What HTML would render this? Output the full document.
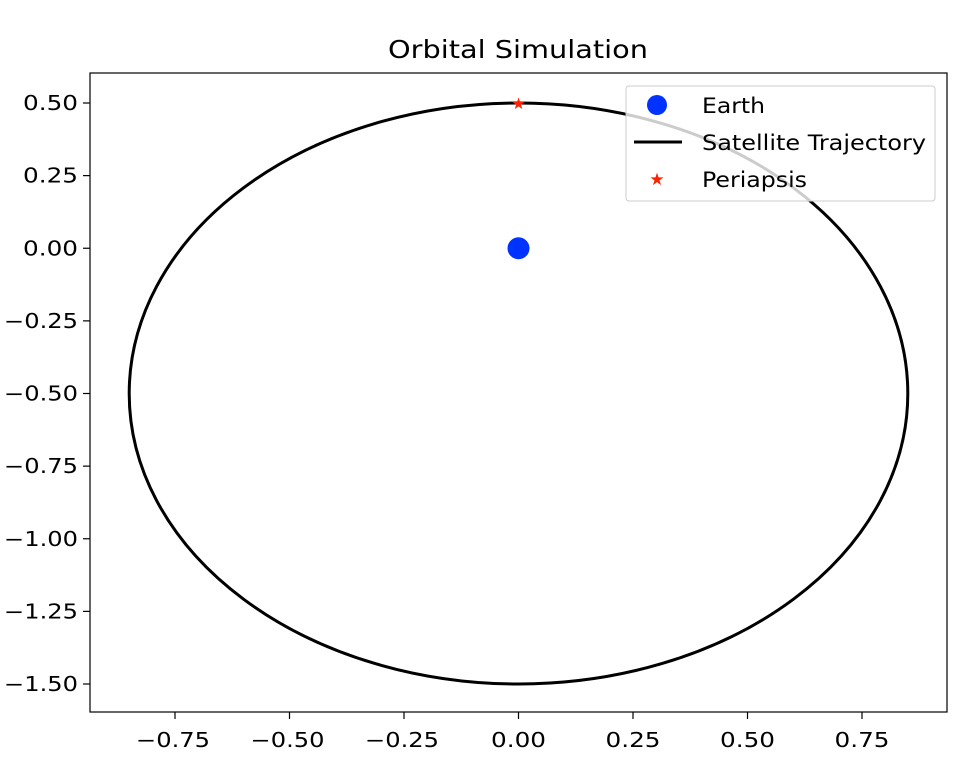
<!DOCTYPE html>
<html><head><meta charset="utf-8"><style>
body{margin:0;background:#fff}
svg text{font-family:"DejaVu Sans","Liberation Sans",sans-serif;fill:#000}
</style></head><body>
<svg id="c" width="974" height="770" xmlns="http://www.w3.org/2000/svg">
<rect width="974" height="770" fill="#fff"/>
<text x="388" y="58" font-size="25" textLength="260" lengthAdjust="spacingAndGlyphs">Orbital Simulation</text>
<g id="plot"></g>
<rect x="90" y="73" width="857" height="639" fill="none" stroke="#000" stroke-width="1.2"/>
<g>
<rect x="626" y="86" width="309" height="115" rx="3" fill="#fff" fill-opacity="0.8" stroke="#ccc"/>
<circle cx="657" cy="105" r="10" fill="#0033ff"/>
<text x="702" y="113" font-size="21" textLength="63" lengthAdjust="spacingAndGlyphs">Earth</text>
<line x1="634" y1="142" x2="682" y2="142" stroke="#000" stroke-width="3"/>
<text x="702" y="150" font-size="21" textLength="224" lengthAdjust="spacingAndGlyphs">Satellite Trajectory</text>
<text x="657" y="185" font-size="17" text-anchor="middle" style="fill:#ff2200">★</text>
<text x="702" y="187" font-size="21" textLength="105" lengthAdjust="spacingAndGlyphs">Periapsis</text>
</g>
</svg>
<script>
const xTicks=[-0.75,-0.5,-0.25,0,0.25,0.5,0.75];
const xTickLabels=["−0.75","−0.50","−0.25","0.00","0.25","0.50","0.75"];
const yTicks=[0.5,0.25,0,-0.25,-0.5,-0.75,-1,-1.25,-1.5];
const yTickLabels=["0.50","0.25","0.00","−0.25","−0.50","−0.75","−1.00","−1.25","−1.50"];
const earth=[0,0];
const periapsis=[0,0.5];
const orbitCenter=[0,-0.5];
const orbitRadii=[0.85,1.0];
const X=v=>518.5+v*458;
const Y=v=>248.25-v*290.5;
const NS="http://www.w3.org/2000/svg";
const g=document.getElementById('plot');
function mk(t,a){const e=document.createElementNS(NS,t);for(const k in a)e.setAttribute(k,a[k]);g.appendChild(e);return e;}
function tl(s){return s.length>4?74:55;}
xTicks.forEach((v,i)=>{
 const l=mk('line',{x1:X(v),x2:X(v),y1:712,y2:719,stroke:'#000','stroke-width':1.2});
 
 
 const w=tl(xTickLabels[i]);
 const t=mk('text',{x:X(v)-w/2-(w>60?2:0),y:747,'font-size':20,textLength:w,lengthAdjust:'spacingAndGlyphs'});t.textContent=xTickLabels[i];
 
 
});
yTicks.forEach((v,i)=>{
 const l=mk('line',{x1:83,x2:90,y1:Y(v),y2:Y(v),stroke:'#000','stroke-width':1.2});
 
 
 const w=tl(yTickLabels[i]);
 const t=mk('text',{x:78-w,y:Y(v)+7,'font-size':20,textLength:w,lengthAdjust:'spacingAndGlyphs'});t.textContent=yTickLabels[i];
 
 
});
const el=mk('ellipse',{cx:X(orbitCenter[0]),cy:Y(orbitCenter[1]),rx:X(orbitRadii[0])-X(0),ry:Y(0)-Y(orbitRadii[1]),fill:'none',stroke:'#000','stroke-width':3});


const e=mk('circle',{cx:X(earth[0]),cy:Y(earth[1]),r:11,fill:'#0033ff'});


const p=mk('text',{x:X(periapsis[0]),y:Y(periapsis[1])+6,'font-size':16,'text-anchor':'middle',style:'fill:#ff2200'});p.textContent='★';


</script>
</body></html>
